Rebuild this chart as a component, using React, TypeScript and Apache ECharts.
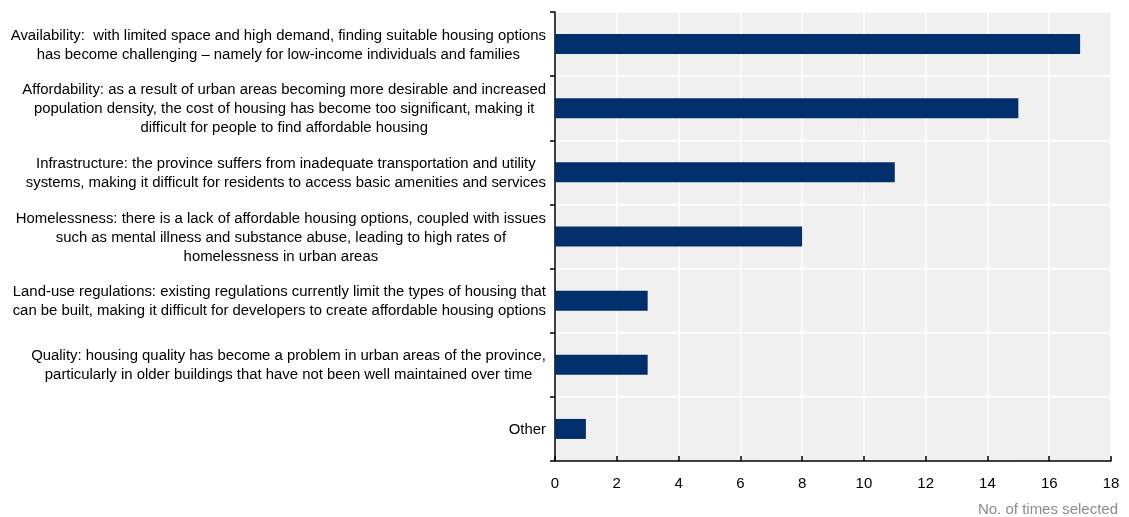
import React, { useEffect, useRef } from "react";
import * as echarts from "echarts";

const categories: string[] = [
  "Availability:  with limited space and high demand, finding suitable housing options\nhas become challenging – namely for low-income individuals and families",
  "Affordability: as a result of urban areas becoming more desirable and increased\npopulation density, the cost of housing has become too significant, making it\ndifficult for people to find affordable housing",
  "Infrastructure: the province suffers from inadequate transportation and utility\nsystems, making it difficult for residents to access basic amenities and services",
  "Homelessness: there is a lack of affordable housing options, coupled with issues\nsuch as mental illness and substance abuse, leading to high rates of\nhomelessness in urban areas",
  "Land-use regulations: existing regulations currently limit the types of housing that\ncan be built, making it difficult for developers to create affordable housing options",
  "Quality: housing quality has become a problem in urban areas of the province,\nparticularly in older buildings that have not been well maintained over time",
  "Other",
];

const timesSelected: number[] = [17, 15, 11, 8, 3, 3, 1];

const axisTitle = "No. of times selected";

const FONT = '"Liberation Sans", Arial, sans-serif';

export default function App() {
  const ref = useRef<HTMLDivElement>(null);

  useEffect(() => {
    if (!ref.current) return;
    const chart = echarts.init(ref.current, undefined, { renderer: "svg" });
    chart.setOption({
      animation: false,
      grid: {
        left: 555,
        right: 18,
        top: 12,
        bottom: 56,
        show: true,
        backgroundColor: "#f0f0f0",
        borderWidth: 0,
      },
      xAxis: {
        type: "value",
        min: 0,
        max: 18,
        interval: 2,
        axisLine: { show: true, lineStyle: { color: "#000", width: 1.5 } },
        axisTick: { show: true, inside: true, length: 5, lineStyle: { color: "#000", width: 1.5 } },
        axisLabel: { color: "#000", fontFamily: FONT, fontSize: 15, margin: 14 },
        splitLine: { show: true, lineStyle: { color: "#fff", width: 1.5 } },
      },
      yAxis: {
        type: "category",
        inverse: true,
        data: categories,
        axisLine: { show: true, lineStyle: { color: "#000", width: 1.5 } },
        axisTick: { show: true, length: 5, lineStyle: { color: "#000", width: 1.5 } },
        splitLine: { show: true, lineStyle: { color: "#fff", width: 1.5 } },
        axisLabel: {
          margin: 9,
          color: "#000",
          fontFamily: FONT,
          fontSize: 14.9,
          lineHeight: 19,
          // centre each line within its label block, block right-aligned to the axis
          formatter: (v: string) =>
            v
              .split("\n")
              .map((line) => `{c|${line}}`)
              .join("\n"),
          rich: {
            c: {
              align: "center",
              color: "#000",
              fontFamily: FONT,
              fontSize: 14.9,
              lineHeight: 19,
            },
          },
        },
      },
      series: [
        {
          type: "bar",
          data: timesSelected,
          barWidth: 20,
          itemStyle: { color: "#002f6c" },
        },
      ],
      graphic: [
        {
          type: "text",
          right: 11,
          top: 501,
          style: {
            text: axisTitle,
            fill: "#8c8c8c",
            fontFamily: FONT,
            fontSize: 15,
          },
        },
      ],
    });
    return () => chart.dispose();
  }, []);

  return (
    <div
      ref={ref}
      style={{ position: "fixed", left: 0, top: 0, width: 1129, height: 517 }}
    />
  );
}
